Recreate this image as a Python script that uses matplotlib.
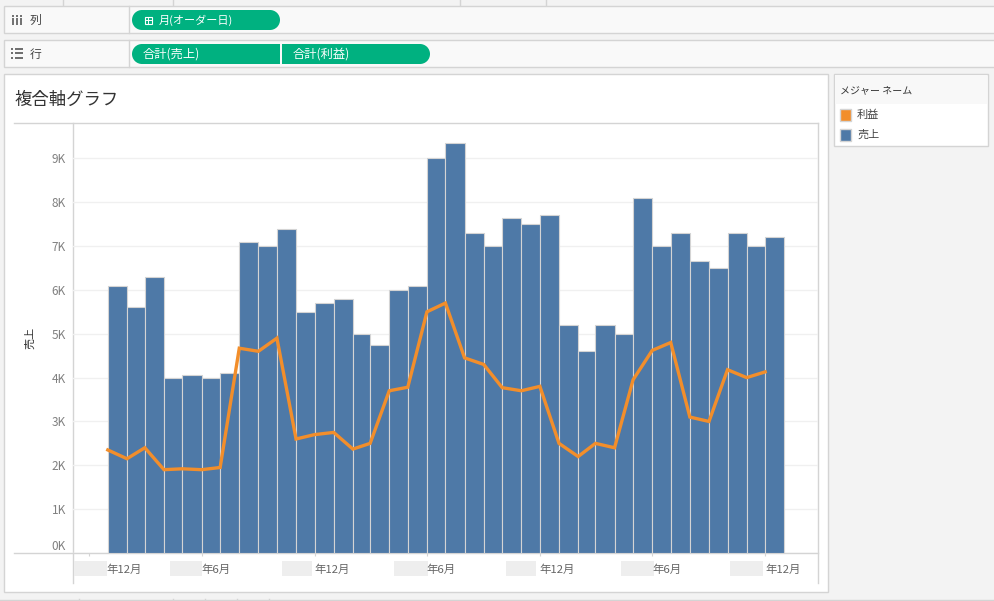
import matplotlib
matplotlib.use('Agg')
import matplotlib.pyplot as plt
import matplotlib.dates as mdates
from matplotlib.patches import Rectangle
import numpy as np
import pandas as pd

plt.rcParams['font.family'] = ['Noto Sans CJK JP', 'DejaVu Sans']

# 売上 / 利益 (bars and line share the same scale on the picture)
sales = [6100, 5600, 6300, 4000, 4050, 4000, 4100, 7100, 7000, 7400, 5500, 5700,
         5800, 5000, 4750, 6000, 6100, 9000, 9350, 7300, 7000, 7650, 7500, 7700,
         5200, 4600, 5200, 5000, 8100, 7000, 7300, 6650, 6500, 7300, 7000, 7200]
profit = [2350, 2150, 2400, 1900, 1920, 1900, 1950, 4670, 4600, 4900, 2600, 2700,
          2750, 2370, 2500, 3700, 3780, 5500, 5700, 4450, 4300, 3770, 3700, 3800,
          2500, 2200, 2500, 2400, 3950, 4620, 4800, 3100, 3000, 4180, 4000, 4130]
y_ticks = [0, 1000, 2000, 3000, 4000, 5000, 6000, 7000, 8000, 9000]
y_labels = ['0K', '1K', '2K', '3K', '4K', '5K', '6K', '7K', '8K', '9K']
x_tick_dates = ['2015-12-01', '2016-06-01', '2016-12-01', '2017-06-01',
                '2017-12-01', '2018-06-01', '2018-12-01']
x_labels = ['年12月', '年6月', '年12月', '年6月', '年12月', '年6月', '年12月']

BLUE = '#4e79a7'
ORANGE = '#f28e2b'
GREEN = '#00b180'
LINE = '#d4d4d4'
W, H = 994, 601

fig = plt.figure(figsize=(W / 100, H / 100), dpi=100, facecolor='#f3f3f3')

# window chrome, in pixels
bg = fig.add_axes([0, 0, 1, 1])
bg.set_xlim(0, W)
bg.set_ylim(H, 0)
bg.axis('off')


def box(x0, y0, x1, y1, fc='#f9f9f9', ec=LINE, lw=1.0, z=1):
    bg.add_patch(Rectangle((x0, y0), x1 - x0, y1 - y0, fc=fc, ec=ec, lw=lw, zorder=z))


def pill(x0, y0, x1, y1, square=None):
    r = (y1 - y0) / 2
    bg.add_patch(Rectangle((x0 + r, y0), x1 - x0 - 2 * r, y1 - y0, fc=GREEN, ec='none', zorder=2))
    for side_x in (x0 + r, x1 - r):
        bg.add_patch(plt.Circle((side_x, y0 + r), r, fc=GREEN, ec='none', zorder=2))
    if square == 'right':
        bg.add_patch(Rectangle((x1 - r, y0), r, y1 - y0, fc=GREEN, ec='none', zorder=2))
    if square == 'left':
        bg.add_patch(Rectangle((x0, y0), r, y1 - y0, fc=GREEN, ec='none', zorder=2))


# shelves
box(4, 6, 1000, 33)
box(4, 40, 1000, 67)
bg.plot([129, 129], [6, 33], color=LINE, lw=1, zorder=3)
bg.plot([129, 129], [40, 67], color=LINE, lw=1, zorder=3)
for x in [63, 173, 460, 546]:
    bg.plot([x, x], [0, 5], color=LINE, lw=1)
bg.plot([0, W], [599.5, 599.5], color=LINE, lw=1)
for x in [79, 173, 205, 237, 269]:
    bg.plot([x, x], [599, H], color=LINE, lw=1)

# shelf icons
for x in [13, 17, 21]:
    bg.plot([x, x], [18, 25], color='#666666', lw=1.3, solid_capstyle='butt', zorder=3)
    bg.plot([x, x], [15, 16.5], color='#666666', lw=1.3, solid_capstyle='butt', zorder=3)
for y in [48.5, 53, 57.5]:
    bg.plot([11, 13], [y, y], color='#555555', lw=1.2, solid_capstyle='butt', zorder=3)
    bg.plot([15, 23], [y, y], color='#555555', lw=1.2, solid_capstyle='butt', zorder=3)
bg.text(30, 20.5, '列', fontsize=8.5, color='#444444', va='center', zorder=3)
bg.text(30, 54.5, '行', fontsize=8.5, color='#444444', va='center', zorder=3)

pill(132, 10, 280, 30)
pill(132, 44, 280, 64, square='right')
pill(282, 44, 430, 64, square='left')
bg.add_patch(Rectangle((144.5, 16.5), 7.5, 7.5, fc='none', ec='white', lw=0.8, zorder=3))
bg.plot([148.2, 148.2], [18, 22.5], color='white', lw=0.7, zorder=3)
bg.plot([146, 150.5], [20.2, 20.2], color='white', lw=0.7, zorder=3)
bg.text(159, 20, '月(オーダー日)', fontsize=8, color='white', va='center', zorder=3)
bg.text(143, 54.5, '合計(売上)', fontsize=8.8, color='white', va='center', zorder=3)
bg.text(293, 54.5, '合計(利益)', fontsize=8.8, color='white', va='center', zorder=3)

# chart panel
box(4, 74, 828, 592, fc='white')
bg.text(15, 100, '複合軸グラフ', fontsize=12.5, color='#333333', va='center', zorder=3)
bg.plot([14, 818], [123, 123], color=LINE, lw=1, zorder=2)
bg.plot([14, 818], [553, 553], color=LINE, lw=1, zorder=2)
bg.plot([73, 73], [123, 583], color=LINE, lw=1, zorder=2)
bg.plot([818, 818], [123, 583], color=LINE, lw=1, zorder=2)
bg.text(30, 338, '売上', fontsize=8, color='#333333', rotation=90, ha='center', va='center', zorder=3)

# masked year parts of the date labels
for x0, x1 in [(74, 107), (170, 202), (282, 312), (394, 428), (506, 536), (621, 654), (730, 763)]:
    bg.add_patch(Rectangle((x0, 561), x1 - x0, 15, fc='#eeeeee', ec='none', zorder=2))

# legend
box(834, 74, 988, 146, fc='white')
box(835, 75, 987, 104, fc='#f8f8f8', ec='none', z=2)
bg.text(840, 90.5, 'メジャー ネーム', fontsize=7.2, color='#333333', va='center', zorder=3)
box(839.5, 109, 851, 120.5, fc=ORANGE, z=3)
box(839.5, 129, 851, 140.5, fc=BLUE, z=3)
bg.text(857, 115, '利益', fontsize=8, color='#444444', va='center', zorder=3)
bg.text(857, 135, '売上', fontsize=8, color='#444444', va='center', zorder=3)

# main chart
ax = fig.add_axes([73 / W, 1 - 553 / H, (818 - 73) / W, (553 - 123) / H])
ax.patch.set_visible(False)

months = pd.date_range('2016-01-01', periods=len(sales) + 1, freq='MS')
edges = mdates.date2num(months)
starts = edges[:-1]
widths = np.diff(edges)

ax.bar(starts, sales, width=widths, align='edge', color=BLUE, edgecolor=LINE, linewidth=0.8, zorder=2)
ax.plot(starts, profit, color=ORANGE, lw=2.4, solid_joinstyle='miter', zorder=3)

px_per_day = (784.3 - 107.8) / (edges[-1] - edges[0])
ax.set_xlim(edges[0] - (107.8 - 73) / px_per_day, edges[-1] + (818 - 784.3) / px_per_day)
ax.set_ylim(0, 430 / 43.85 * 1000)

ax.set_yticks(y_ticks)
ax.set_yticklabels(y_labels)
ax.get_yticklabels()[0].set_va('bottom')
ax.tick_params(axis='y', length=0, pad=5, labelsize=8.5, labelcolor='#808080')
ax.yaxis.grid(True, color='#f0f0f0', lw=1)
ax.set_axisbelow(True)

tick_nums = mdates.date2num(pd.to_datetime(x_tick_dates))
ax.set_xticks(tick_nums)
ax.set_xticklabels([])
ax.tick_params(axis='x', length=2, width=0.8, color=LINE)
for i, (t, lab) in enumerate(zip(tick_nums, x_labels)):
    # first label is pushed right of its tick, as in the reference
    off = 12.5 if i == 0 else 0
    ax.annotate(lab, (t, 0), xycoords=('data', 'axes fraction'), xytext=(off, -12),
                textcoords='offset points', ha='left', va='center', fontsize=8.2, color='#666666')

for s in ax.spines.values():
    s.set_visible(False)

fig.savefig('out.png', dpi=100, facecolor=fig.get_facecolor())
